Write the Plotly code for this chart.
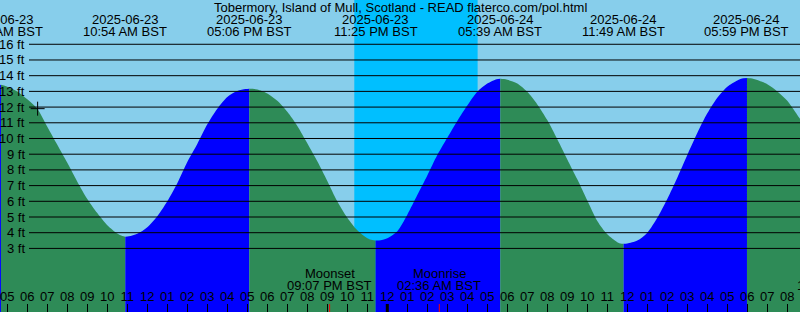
import plotly.graph_objects as go
import pandas as pd

TITLE = "Tobermory, Island of Mull, Scotland - READ flaterco.com/pol.html"

# Tide curve (feet), half-hourly plus the turning points
curve_times = [
    "2025-06-23 04:38", "2025-06-23 04:41", "2025-06-23 05:00", "2025-06-23 05:30",
    "2025-06-23 06:00", "2025-06-23 06:30", "2025-06-23 07:00", "2025-06-23 07:30",
    "2025-06-23 08:00", "2025-06-23 08:30", "2025-06-23 09:00", "2025-06-23 09:30",
    "2025-06-23 10:00", "2025-06-23 10:30", "2025-06-23 10:45", "2025-06-23 10:54",
    "2025-06-23 11:05", "2025-06-23 11:30", "2025-06-23 12:00", "2025-06-23 12:30",
    "2025-06-23 13:00", "2025-06-23 13:30", "2025-06-23 14:00", "2025-06-23 14:30",
    "2025-06-23 15:00", "2025-06-23 15:30", "2025-06-23 16:00", "2025-06-23 16:30",
    "2025-06-23 16:55", "2025-06-23 17:06", "2025-06-23 17:15", "2025-06-23 17:30",
    "2025-06-23 18:00", "2025-06-23 18:30", "2025-06-23 19:00", "2025-06-23 19:30",
    "2025-06-23 20:00", "2025-06-23 20:30", "2025-06-23 21:00", "2025-06-23 21:30",
    "2025-06-23 22:00", "2025-06-23 22:30", "2025-06-23 23:00", "2025-06-23 23:15",
    "2025-06-23 23:25", "2025-06-23 23:35", "2025-06-24 00:00", "2025-06-24 00:30",
    "2025-06-24 01:00", "2025-06-24 01:30", "2025-06-24 02:00", "2025-06-24 02:30",
    "2025-06-24 03:00", "2025-06-24 03:30", "2025-06-24 04:00", "2025-06-24 04:30",
    "2025-06-24 05:00", "2025-06-24 05:28", "2025-06-24 05:39", "2025-06-24 05:50",
    "2025-06-24 06:00", "2025-06-24 06:30", "2025-06-24 07:00", "2025-06-24 07:30",
    "2025-06-24 08:00", "2025-06-24 08:30", "2025-06-24 09:00", "2025-06-24 09:30",
    "2025-06-24 10:00", "2025-06-24 10:30", "2025-06-24 11:00", "2025-06-24 11:30",
    "2025-06-24 11:40", "2025-06-24 11:49", "2025-06-24 12:00", "2025-06-24 12:30",
    "2025-06-24 13:00", "2025-06-24 13:30", "2025-06-24 14:00", "2025-06-24 14:30",
    "2025-06-24 15:00", "2025-06-24 15:30", "2025-06-24 16:00", "2025-06-24 16:30",
    "2025-06-24 17:00", "2025-06-24 17:30", "2025-06-24 17:48", "2025-06-24 17:59",
    "2025-06-24 18:10", "2025-06-24 18:30", "2025-06-24 19:00", "2025-06-24 19:30",
    "2025-06-24 20:00", "2025-06-24 20:30", "2025-06-24 20:40",
]
curve_ft = [
    13.40, 13.42, 13.30, 13.00,
    12.50, 11.90, 10.75, 9.60,
    8.45, 7.25, 6.15, 5.25,
    4.48, 3.95, 3.79, 3.75,
    3.77, 3.93, 4.35, 5.05,
    6.00, 7.15, 8.50, 9.65,
    10.90, 11.90, 12.65, 13.03,
    13.15, 13.17, 13.16, 13.12,
    12.87, 12.40, 11.70, 10.80,
    9.70, 8.55, 7.30, 6.00,
    4.95, 4.15, 3.65, 3.53,
    3.50, 3.51, 3.65, 4.10,
    5.15, 6.40, 7.65, 8.95,
    10.05, 11.12, 12.10, 12.98,
    13.50, 13.78, 13.81, 13.79,
    13.74, 13.50, 12.97, 12.17,
    11.17, 9.95, 8.67, 7.40,
    6.05, 4.75, 3.90, 3.40,
    3.31, 3.29, 3.31, 3.50,
    4.00, 4.95, 6.15, 7.50,
    8.95, 10.35, 11.60, 12.60,
    13.30, 13.70, 13.83, 13.85,
    13.83, 13.72, 13.45, 13.00,
    12.40, 11.50, 11.20,
]

# High / low tides
extreme_times = ["2025-06-23 04:41", "2025-06-23 10:54", "2025-06-23 17:06", "2025-06-23 23:25",
                 "2025-06-24 05:39", "2025-06-24 11:49", "2025-06-24 17:59"]
extreme_dates = ["2025-06-23", "2025-06-23", "2025-06-23", "2025-06-23",
                 "2025-06-24", "2025-06-24", "2025-06-24"]
extreme_clock = ["04:41 AM BST", "10:54 AM BST", "05:06 PM BST", "11:25 PM BST",
                 "05:39 AM BST", "11:49 AM BST", "05:59 PM BST"]

# Moon events
moon_events = ["Moonset", "Moonrise", "Moonset"]
moon_times = ["2025-06-23 21:07", "2025-06-24 02:36", "2025-06-24 22:36"]
moon_clock = ["09:07 PM BST", "02:36 AM BST", "10:36 PM BST"]

# Night
sunset = "2025-06-23 22:21"
sunrise = "2025-06-24 04:31"
midnight = "2025-06-24 00:00"

# Current time mark
now_time = ["2025-06-23 06:31"]
now_ft = [11.9]

level_ticks = list(range(3, 17))
level_labels = [f"{v} ft" for v in level_ticks]
x_range = ["2025-06-23 04:38:06", "2025-06-24 20:38:06"]
y_range = [-1.05, 18.82]

DAY = "#87CEEB"
NIGHT = "#00BFFF"
GREEN = "#2E8B57"
BLUE = "#0000FF"
FONT = "Liberation Sans"
FS = 13
W, H = 800, 312
FLOOR = -6

fig = go.Figure()

t = pd.to_datetime(pd.Series(curve_times))
v = pd.Series(curve_ft)
ext = list(pd.to_datetime(pd.Series(extreme_times)))
bounds = [t.iloc[0]] + ext + [t.iloc[-1]]
for a, b in zip(bounds[:-1], bounds[1:]):
    if a == b:
        continue
    m = (t >= a) & (t <= b)
    st, sv = t[m], v[m]
    color = BLUE if sv.iloc[-1] > sv.iloc[0] else GREEN
    fig.add_trace(go.Scatter(x=[a, b], y=[FLOOR, FLOOR], mode="lines",
                             line=dict(width=0), hoverinfo="skip", showlegend=False))
    fig.add_trace(go.Scatter(x=st, y=sv, mode="lines",
                             line=dict(width=0, shape="spline", smoothing=0.8, color=color),
                             fill="tonexty", fillcolor=color, hoverinfo="skip", showlegend=False))

fig.add_trace(go.Scatter(x=now_time, y=now_ft, mode="markers",
                         marker=dict(symbol="cross-thin", size=10, line=dict(width=1, color="black")),
                         showlegend=False))

shapes = [dict(type="rect", xref="x", yref="paper", x0=sunset, x1=sunrise, y0=0, y1=1,
               fillcolor=NIGHT, line=dict(width=0), layer="below")]
for lv in level_ticks:
    shapes.append(dict(type="line", xref="paper", yref="y", x0=29 / W, x1=1, y0=lv, y1=lv,
                       line=dict(color="black", width=1), layer="above"))
shapes.append(dict(type="line", xref="x", yref="paper", x0=midnight, x1=midnight, y0=0, y1=8 / H,
                   line=dict(color="black", width=3), layer="above"))
for mt in moon_times:
    shapes.append(dict(type="line", xref="x", yref="paper", x0=mt, x1=mt, y0=0, y1=8 / H,
                       line=dict(color="red", width=1), layer="above"))

x0_ts, x1_ts = pd.Timestamp(x_range[0]), pd.Timestamp(x_range[1])


def px_frac(ts):
    # position of a time as a fraction of the x axis span (used for labels past the edge)
    return (pd.Timestamp(ts) - x0_ts) / (x1_ts - x0_ts)


def py(px):
    return 1 - px / H


ann = [dict(text=TITLE, x=0.5, xref="paper", y=py(7.5), yref="paper", showarrow=False,
            xanchor="center", yanchor="middle")]
for et, d, c in zip(extreme_times, extreme_dates, extreme_clock):
    ann.append(dict(text=d, x=et, xref="x", y=py(19.5), yref="paper", showarrow=False,
                    xanchor="center", yanchor="middle"))
    ann.append(dict(text=c, x=et, xref="x", y=py(31.5), yref="paper", showarrow=False,
                    xanchor="center", yanchor="middle"))
for ev, mt, c in zip(moon_events, moon_times, moon_clock):
    fx = px_frac(mt)
    ann.append(dict(text=ev, x=fx, xref="paper", y=py(273.5), yref="paper", showarrow=False,
                    xanchor="center", yanchor="middle"))
    ann.append(dict(text=c, x=fx, xref="paper", y=py(285.3), yref="paper", showarrow=False,
                    xanchor="center", yanchor="middle"))
for lv, lab in zip(level_ticks, level_labels):
    ann.append(dict(text=lab, x=27 / W, xref="paper", y=lv, yref="y", showarrow=False,
                    xanchor="right", yanchor="middle"))

fig.update_layout(
    width=W, height=H, margin=dict(l=0, r=0, t=0, b=0),
    paper_bgcolor=DAY, plot_bgcolor=DAY,
    font=dict(family=FONT, size=FS, color="black"),
    shapes=shapes, annotations=ann, showlegend=False,
    xaxis=dict(type="date", range=x_range, showgrid=False, zeroline=False, showline=False,
               ticks="inside", ticklen=8, tickwidth=1, tickcolor="black",
               tick0="2025-06-23 05:00", dtick=3600000, tickformat="%I",
               ticklabelposition="inside", tickfont=dict(family=FONT, size=FS, color="black"),
               automargin=False, fixedrange=True),
    yaxis=dict(range=y_range, showgrid=False, zeroline=False, showline=False,
               showticklabels=False, ticks="", automargin=False, fixedrange=True),
)

fig.write_html("out.html")
